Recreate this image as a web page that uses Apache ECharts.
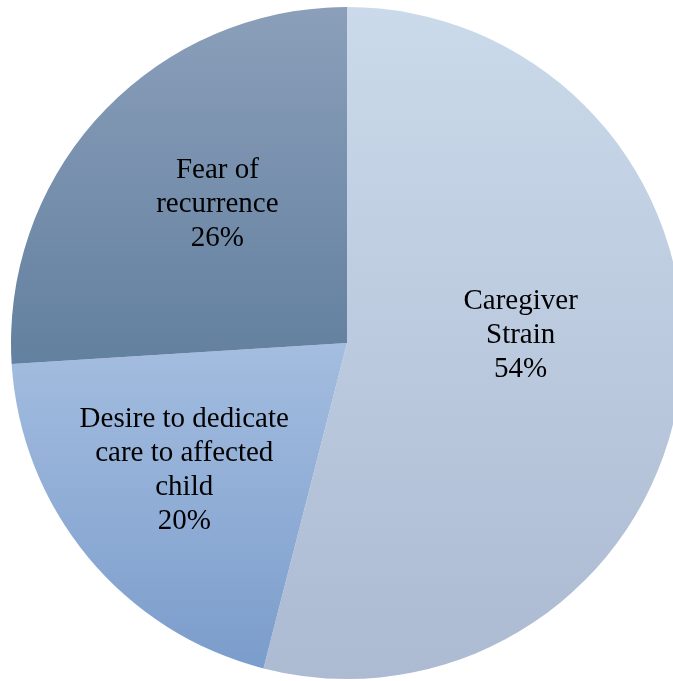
<!DOCTYPE html>
<html>
<head>
<meta charset="utf-8">
<script src="https://cdn.jsdelivr.net/npm/echarts@6/dist/echarts.min.js"></script>
<style>
  html, body { margin: 0; padding: 0; background: #ffffff; }
  #chart { width: 673px; height: 681px; }
</style>
</head>
<body>
<div id="chart"></div>
<script>
// Data
const categories = ['Caregiver Strain', 'Desire to dedicate care to affected child', 'Fear of recurrence'];
const labelLines = ['Caregiver\nStrain', 'Desire to dedicate\ncare to affected\nchild', 'Fear of\nrecurrence'];
const values = [54, 20, 26];

// Styling
const gradients = [
  ['#cadaea', '#acbad2'],
  ['#a4bde0', '#7b9dcb'],
  ['#8b9fba', '#62809f']
];
const labelShift = [[4, -29], [-31, 18], [-5, -22]];

const chart = echarts.init(document.getElementById('chart'), null, { renderer: 'canvas' });

const data = categories.map((name, i) => ({
  name: name,
  value: values[i],
  itemStyle: {
    color: new echarts.graphic.LinearGradient(0, 0, 0, 1, [
      { offset: 0, color: gradients[i][0] },
      { offset: 1, color: gradients[i][1] }
    ])
  }
}));

chart.setOption({
  animation: false,
  series: [{
    type: 'pie',
    center: [347, 343],
    radius: 336,
    startAngle: 90,
    clockwise: true,
    data: data,
    itemStyle: { borderWidth: 0 },
    label: {
      show: true,
      position: 'inside',
      formatter: p => labelLines[p.dataIndex] + '\n' + p.value + '%',
      fontFamily: '"Liberation Serif", "Times New Roman", serif',
      fontSize: 29,
      lineHeight: 34,
      color: '#000000',
      align: 'center'
    },
    labelLine: { show: false },
    labelLayout: p => ({ dx: labelShift[p.dataIndex][0], dy: labelShift[p.dataIndex][1] }),
    emphasis: { disabled: true }
  }]
});
</script>
</body>
</html>
